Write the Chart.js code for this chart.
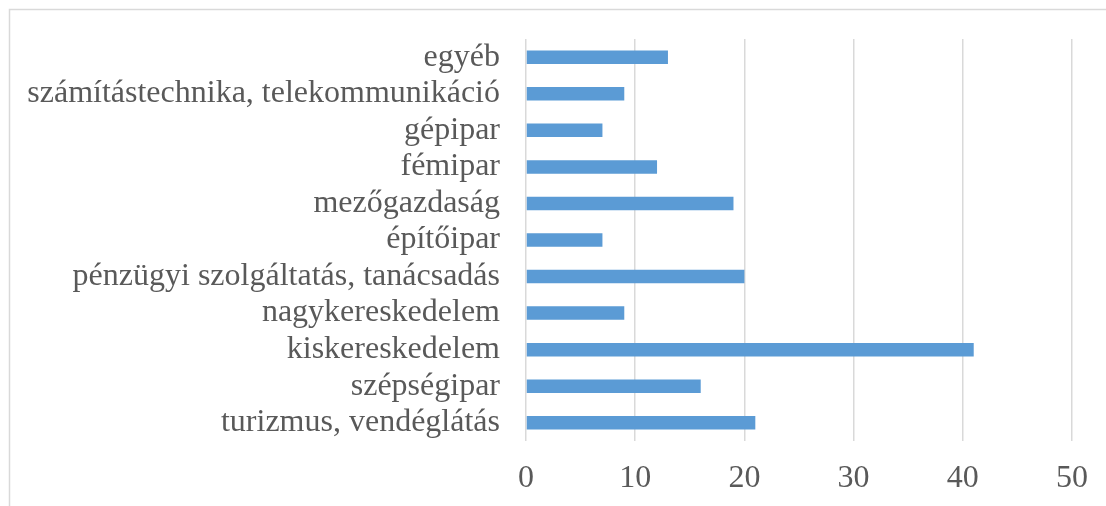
<!DOCTYPE html>
<html>
<head>
<meta charset="utf-8">
<script src="https://cdn.jsdelivr.net/npm/chart.js@4"></script>
<style>
  html, body { margin: 0; padding: 0; background: #fff; }
  #wrap { width: 1106px; height: 506px; position: relative; }
</style>
</head>
<body>
<div id="wrap"><canvas id="chart"></canvas></div>
<script>
// Ágazatok (felülről lefelé) és értékek
const categories = [
    'egyéb',
    'számítástechnika, telekommunikáció',
    'gépipar',
    'fémipar',
    'mezőgazdaság',
    'építőipar',
    'pénzügyi szolgáltatás, tanácsadás',
    'nagykereskedelem',
    'kiskereskedelem',
    'szépségipar',
    'turizmus, vendéglátás'
];
const values = [13, 9, 7, 12, 19, 7, 20, 9, 41, 16, 21];
const xTicks = [0, 10, 20, 30, 40, 50];

// keret a diagram körül (bal és felső vonal)
const frame = {
    id: 'frame',
    beforeDraw(chart) {
        const c = chart.ctx;
        c.save();
        c.strokeStyle = '#d9d9d9';
        c.lineWidth = 1.5;
        c.beginPath();
        c.moveTo(9.5, 506);
        c.lineTo(9.5, 9.5);
        c.lineTo(1106, 9.5);
        c.stroke();
        c.restore();
    }
};

new Chart(document.getElementById('chart').getContext('2d'), {
    type: 'bar',
    data: {
        labels: categories,
        datasets: [{
            data: values,
            backgroundColor: '#5b9bd5',
            borderWidth: 0,
            barPercentage: 0.74,
            categoryPercentage: 0.5
        }]
    },
    options: {
        indexAxis: 'y',
        responsive: true,
        maintainAspectRatio: false,
        animation: false,
        layout: { padding: { top: 39, right: 34, bottom: 0, left: 0 } },
        plugins: {
            legend: { display: false },
            tooltip: { enabled: false }
        },
        scales: {
            x: {
                min: 0,
                max: 50,
                afterBuildTicks(scale) {
                    scale.ticks = xTicks.map(v => ({ value: v }));
                },
                afterFit(scale) { scale.height = 65; },
                border: { display: false },
                grid: { color: '#d9d9d9', lineWidth: 1.5, drawTicks: false },
                ticks: {
                    padding: 18,
                    color: '#595959',
                    font: { family: 'Liberation Serif', size: 32 }
                }
            },
            y: {
                afterFit(scale) {
                    scale.width = 526;
                    scale.paddingTop = 0;
                    scale.paddingBottom = 0;
                },
                border: { display: false },
                grid: { display: false, drawTicks: false },
                ticks: {
                    autoSkip: false,
                    padding: 26,
                    color: '#595959',
                    font: { family: 'Liberation Serif', size: 32 }
                }
            }
        }
    },
    plugins: [frame]
});
</script>
</body>
</html>
